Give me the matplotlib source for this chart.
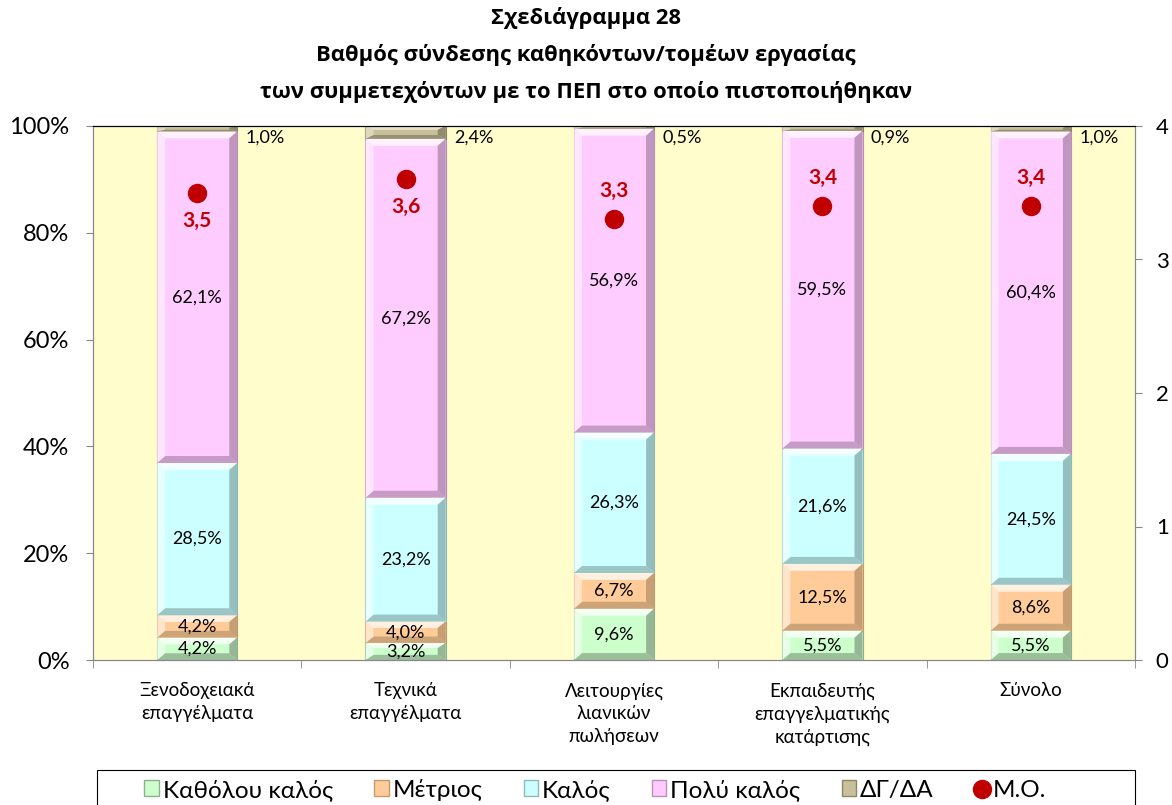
import matplotlib
matplotlib.use("Agg")
import matplotlib.pyplot as plt
from matplotlib.patches import Rectangle, Polygon
from matplotlib.lines import Line2D
import numpy as np

plt.rcParams['font.family'] = ['Lato', 'DejaVu Sans']

categories = ["Ξενοδοχειακά\nεπαγγέλματα", "Τεχνικά\nεπαγγέλματα",
              "Λειτουργίες\nλιανικών\nπωλήσεων", "Εκπαιδευτής\nεπαγγελματικής\nκατάρτισης",
              "Σύνολο"]
series_names = ["Καθόλου καλός", "Μέτριος", "Καλός", "Πολύ καλός", "ΔΓ/ΔΑ"]
katholou = [4.2, 3.2, 9.6, 5.5, 5.5]
metrios = [4.2, 4.0, 6.7, 12.5, 8.6]
kalos = [28.5, 23.2, 26.3, 21.6, 24.5]
poly_kalos = [62.1, 67.2, 56.9, 59.5, 60.4]
dg_da = [1.0, 2.4, 0.5, 0.9, 1.0]
mo = [3.5, 3.6, 3.3, 3.4, 3.4]
mo_labels = ["3,5", "3,6", "3,3", "3,4", "3,4"]
mo_label_below = [True, True, False, False, False]

colors = ["#CCFFCC", "#FFCC99", "#CCFFFF", "#FFCCFF", "#C8C09A"]
dark = ["#8FB08F", "#C09A70", "#8FB8B8", "#B890B8", "#8C8668"]
light = ["#F2FFF2", "#FFF0E0", "#F2FFFF", "#FFF2FF", "#E8E2C8"]

fig = plt.figure(figsize=(11.72, 8.05), dpi=100)
ax = fig.add_axes([93/1172, 1-660/805, (1135-93)/1172, (660-126)/805])
ax.set_facecolor("#FFFDCC")

x = np.arange(len(categories))
width = 0.385
series = [katholou, metrios, kalos, poly_kalos, dg_da]
bottom = np.zeros(len(categories))

def fmt(v):
    return f"{v:.1f}".replace(".", ",") + "%"

for si, vals in enumerate(series):
    vals = np.array(vals)
    bars = ax.bar(x, vals, width, bottom=bottom, color=colors[si],
                  edgecolor=dark[si], linewidth=0.8, zorder=2)
    for b in bars:
        bx, by = b.get_x(), b.get_y()
        bw, bh = b.get_width(), b.get_height()
        ins_x = bw * 0.1
        ins_y = min(bh * 0.3, 1.3)
        top = [(bx, by + bh), (bx + bw, by + bh), (bx + bw - ins_x, by + bh - ins_y), (bx + ins_x, by + bh - ins_y)]
        ax.add_patch(Polygon(top, closed=True, facecolor=light[si], edgecolor='none', zorder=2.1))
        bot = [(bx, by), (bx + bw, by), (bx + bw - ins_x, by + ins_y), (bx + ins_x, by + ins_y)]
        ax.add_patch(Polygon(bot, closed=True, facecolor=dark[si], edgecolor='none', zorder=2.1, alpha=0.8))
        right = [(bx + bw, by), (bx + bw, by + bh), (bx + bw - ins_x, by + bh - ins_y), (bx + bw - ins_x, by + ins_y)]
        ax.add_patch(Polygon(right, closed=True, facecolor=dark[si], edgecolor='none', zorder=2.1, alpha=0.9))
        left = [(bx, by), (bx, by + bh), (bx + ins_x, by + bh - ins_y), (bx + ins_x, by + ins_y)]
        ax.add_patch(Polygon(left, closed=True, facecolor=light[si], edgecolor='none', zorder=2.1, alpha=0.7))
    for i, v in enumerate(vals):
        if si < 4:
            ax.text(x[i], bottom[i] + v / 2, fmt(v), ha='center', va='center',
                    fontsize=13, color='black', zorder=5)
        else:
            ax.text(x[i] + width / 2 + 0.04, 97.8, fmt(v), ha='left', va='center',
                    fontsize=13, color='black', zorder=5)
    bottom += vals

ax.set_xlim(-0.5, len(categories) - 0.5)
ax.set_ylim(0, 100)
ax.set_yticks([0, 20, 40, 60, 80, 100])
ax.set_yticklabels(["0%", "20%", "40%", "60%", "80%", "100%"], fontsize=17)
ax.set_xticks(x)
ax.set_xticklabels(categories, fontsize=13.5, linespacing=1.4)
ax.tick_params(axis='x', length=0, pad=16)
ax.set_xticks(np.arange(-0.5, len(categories), 1), minor=True)
ax.tick_params(axis='x', which='minor', length=6, color='#888888', direction='out')
ax.tick_params(axis='y', length=5, color='#888888', direction='out', pad=12)
for s in ['left', 'right', 'bottom']:
    ax.spines[s].set_color('#888888')
ax.spines['top'].set_color('black')

ax2 = ax.twinx()
ax2.set_ylim(0, 4)
ax2.set_yticks([0, 1, 2, 3, 4])
ax2.set_yticklabels(["0", "1", "2", "3", "4"], fontsize=16)
ax2.tick_params(axis='y', length=5, color='#888888', direction='out', pad=10)
for s in ['left', 'right', 'bottom']:
    ax2.spines[s].set_color('#888888')
ax2.spines['top'].set_color('black')
ax2.plot(x, mo, linestyle='none', marker='o', markersize=13, color='#C00000', zorder=6)
for i, v in enumerate(mo):
    off = -0.21 if mo_label_below[i] else 0.21
    ax2.text(x[i], v + off, mo_labels[i], ha='center', va='center', fontsize=15,
             fontweight='bold', color='#C00000')

title_lines = ["Σχεδιάγραμμα 28", "Βαθμός σύνδεσης καθηκόντων/τομέων εργασίας",
               "των συμμετεχόντων με το ΠΕΠ στο οποίο πιστοποιήθηκαν"]
for k, line in enumerate(title_lines):
    fig.text(0.5, 1 - (18 + 37 * k) / 805, line, ha='center', va='center',
             fontsize=15.8, fontweight='bold', family=['Open Sans', 'DejaVu Sans'])

handles = [Rectangle((0, 0), 1, 1, facecolor=colors[i], edgecolor=dark[i]) for i in range(5)]
handles.append(Line2D([], [], linestyle='none', marker='o', markersize=13, color='#C00000'))
labels = series_names + ["Μ.Ο."]
fig.add_artist(Rectangle((97/1172, -0.01), (1135-97)/1172, 0.0435 + 0.01, transform=fig.transFigure,
                         facecolor='white', edgecolor='black', linewidth=0.8))
leg = fig.legend(handles, labels, loc='center', bbox_to_anchor=(0.508, 0.019), ncol=6,
                 frameon=False, fontsize=17.5, handlelength=0.6, handleheight=0.6,
                 handletextpad=0.15, columnspacing=1.7, borderpad=0)

fig.savefig("out.png", dpi=100)
